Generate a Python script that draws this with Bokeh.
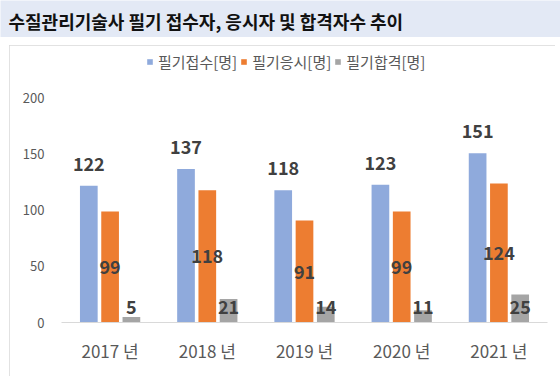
from bokeh.plotting import figure
from bokeh.layouts import column, row
from bokeh.models import (FactorRange, Range1d, FixedTicker, Label, Spacer,
                          Legend, LegendItem, ColumnDataSource)
from bokeh.transform import dodge
from bokeh.core.properties import value
from bokeh.embed import file_html
from bokeh.resources import INLINE

# ---- data ----
title_text = "수질관리기술사 필기 접수자, 응시자 및 합격자수 추이"
years = ["2017 년", "2018 년", "2019 년", "2020 년", "2021 년"]
applied = [122, 137, 118, 123, 151]
taken = [99, 118, 91, 99, 124]
passed = [5, 21, 14, 11, 25]
series_names = ["필기접수[명]", "필기응시[명]", "필기합격[명]"]
y_ticks = [0, 50, 100, 150, 200]

FONT = "Noto Sans CJK KR"
BAND = "#E3E9F5"

# ---- title band ----
top = figure(width=560, height=37, title=None,
             x_range=Range1d(0, 560), y_range=Range1d(0, 37),
             x_axis_type=None, y_axis_type=None,
             output_backend="svg", toolbar_location=None, min_border=0)
top.background_fill_color = BAND
top.border_fill_color = BAND
top.outline_line_color = None
top.grid.grid_line_color = None
top.add_layout(Label(x=8, y=17, text=title_text, text_font=FONT,
                     text_font_style="bold", text_font_size="18px",
                     text_color="#111111", text_baseline="middle"))

# ---- chart ----
src = ColumnDataSource(dict(
    year=years,
    applied=applied, taken=taken, passed=passed,
    taken_mid=[v / 2 for v in taken],
    zero=[0] * len(years),
    applied_t=[str(v) for v in applied],
    taken_t=[str(v) for v in taken],
    passed_t=[str(v) for v in passed],
))

p = figure(width=546, height=331, title=None,
           x_range=FactorRange(factors=years), y_range=Range1d(0, 246.4),
           output_backend="svg", toolbar_location=None,
           min_border_left=52, min_border_right=8,
           min_border_top=1, min_border_bottom=54)
p.background_fill_color = "white"
p.border_fill_color = "white"
p.outline_line_color = None
p.xgrid.grid_line_color = None
p.ygrid.grid_line_color = None
p.styles = {"outline": "1px solid #D9D9D9", "outline-offset": "-1px"}

colors = ["#8FAADC", "#ED7D31", "#A5A5A5"]
offs = [-0.219, 0.0, 0.219]
bw = 0.182

r1 = p.vbar(x=dodge("year", offs[0], range=p.x_range), top="applied", width=bw,
            source=src, fill_color=colors[0], line_color=None)
r2 = p.vbar(x=dodge("year", offs[1], range=p.x_range), top="taken", width=bw,
            source=src, fill_color=colors[1], line_color=None)
r3 = p.vbar(x=dodge("year", offs[2], range=p.x_range), top="passed", width=bw,
            source=src, fill_color=colors[2], line_color=None)

lab_kw = dict(source=src, text_font=value(FONT), text_font_style="bold",
              text_font_size="18px", text_color="#404040",
              text_align="center", text_baseline="middle")
p.text(x=dodge("year", offs[0], range=p.x_range), y="applied", text="applied_t",
       y_offset=-22, **lab_kw)
p.text(x=dodge("year", offs[1], range=p.x_range), y="taken_mid", text="taken_t",
       **lab_kw)
p.text(x=dodge("year", offs[2], range=p.x_range), y="zero", text="passed_t",
       y_offset=-16, **lab_kw)

legend = Legend(items=[LegendItem(label=series_names[0], renderers=[r1]),
                       LegendItem(label=series_names[1], renderers=[r2]),
                       LegendItem(label=series_names[2], renderers=[r3])],
                location=(85, 250), orientation="horizontal",
                glyph_width=7, glyph_height=7, label_standoff=5, spacing=3,
                padding=0, margin=0, border_line_color=None,
                background_fill_alpha=0,
                label_text_font=FONT, label_text_font_size="15px",
                label_text_color="#595959")
p.add_layout(legend)

p.yaxis.ticker = FixedTicker(ticks=y_ticks)
p.yaxis.axis_line_color = None
p.yaxis.major_tick_line_color = None
p.yaxis.minor_tick_line_color = None
p.yaxis.major_label_standoff = 11
p.yaxis.major_label_text_font = FONT
p.yaxis.major_label_text_font_size = "13px"
p.yaxis.major_label_text_color = "#595959"

p.xaxis.axis_line_color = "#D9D9D9"
p.xaxis.major_tick_line_color = None
p.xaxis.minor_tick_line_color = None
p.xaxis.major_label_standoff = 9
p.xaxis.major_label_text_font = FONT
p.xaxis.major_label_text_font_size = "17px"
p.xaxis.major_label_text_color = "#595959"

layout = column(top, Spacer(width=560, height=8), row(Spacer(width=9, height=331), p))

open("out.html", "w").write(file_html(layout, INLINE))
